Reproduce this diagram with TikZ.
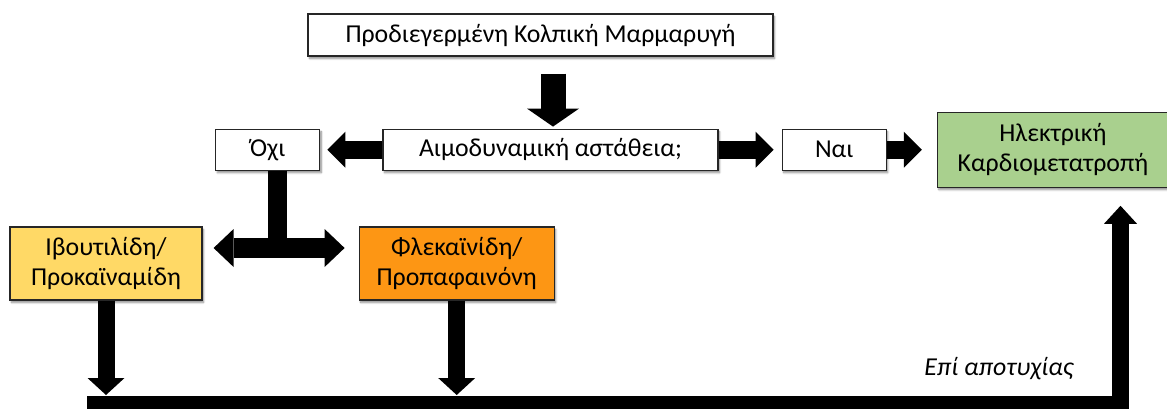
\documentclass[tikz,border=0pt]{standalone}
\usepackage{fontspec}
\setmainfont{Carlito}
\usetikzlibrary{positioning,arrows.meta,shadows.blur}
\definecolor{boxyellow}{RGB}{255,217,102}
\definecolor{boxorange}{RGB}{253,150,20}
\definecolor{boxgreen}{RGB}{169,208,142}
\tikzset{
  stepbox/.style={draw=black!85,line width=1.2pt,fill=white,minimum height=41pt,inner sep=2pt,
    blur shadow={shadow xshift=1.5pt,shadow yshift=-2.5pt,shadow blur steps=6,shadow opacity=45}},
  bigarrow/.style={line width=18pt,-{Triangle[width=36pt,length=18pt,line width=0pt]}},
  bothway/.style={line width=20pt,{Triangle[width=38pt,length=20pt,line width=0pt]}-{Triangle[width=38pt,length=20pt,line width=0pt]}},
  shaftline/.style={line width=19pt}
}

\begin{document}
\begin{tikzpicture}[x=1pt,y=-1pt,node distance=62pt,font=\fontsize{25.8}{29.5}\selectfont]
\useasboundingbox (0,0) rectangle (1167,409);
\node[stepbox,minimum width=465pt,minimum height=42pt] (afib) at (540.5,35) {Προδιεγερμένη Κολπική Μαρμαρυγή};
\node[stepbox,minimum width=335pt,below=72pt of afib,xshift=10pt] (unstable) {Αιμοδυναμική αστάθεια;};
\node[stepbox,minimum width=104pt,left=of unstable] (no) {Όχι};
\node[stepbox,minimum width=104pt,right=63pt of unstable] (yes) {Ναι};
\node[stepbox,fill=boxgreen,minimum width=231pt,minimum height=75pt,align=center,right=50pt of yes] (cardio) {Ηλεκτρική\\Καρδιομετατροπή};
\node[stepbox,fill=boxyellow,minimum width=192pt,minimum height=73pt,align=center] (ibutilide) at (106,263.5) {Ιβουτιλίδη/\\Προκαϊναμίδη};
\node[stepbox,fill=boxorange,minimum width=195pt,minimum height=73pt,align=center,right=156pt of ibutilide] (flecainide) {Φλεκαϊνίδη/\\Προπαφαινόνη};
\node[font=\fontsize{25.8}{29.5}\selectfont\itshape] (fail) at (999,369) {Επί αποτυχίας};

\coordinate (split) at (277.5,248);
\coordinate (barstart) at (87,404);
\coordinate (barend) at (1120.5,404);

% arrows
\draw[line width=25pt,-{Triangle[width=52pt,length=18pt,line width=0pt]},shorten <=17pt,shorten >=2pt] ([xshift=12.5pt]afib.south) -- ([xshift=2.5pt]unstable.north);
\draw[bigarrow,shorten >=7pt] (unstable.west) -- (no.east);
\draw[bigarrow,shorten >=8pt] (unstable.east) -- (yes.west);
\draw[bigarrow,shorten >=15pt] (yes.east) -- (yes.east -| cardio.west);
\draw[shaftline] (no.south -| split) -- (split);
\draw[bothway,shorten <=11pt,shorten >=14pt] (split -| ibutilide.east) -- (split -| flecainide.west);
\draw[line width=17pt,-{Triangle[width=37pt,length=17pt,line width=0pt]},shorten >=9pt] (ibutilide.south) -- (ibutilide.south |- barstart);
\draw[line width=17pt,-{Triangle[width=37pt,length=17pt,line width=0pt]},shorten >=9pt] (flecainide.south) -- (flecainide.south |- barstart);
\draw[line width=17pt,-{Triangle[width=33pt,length=18pt,line width=0pt]},shorten >=18pt] (barstart) -- (barend) -- (barend |- cardio.south);
\end{tikzpicture}
\end{document}
